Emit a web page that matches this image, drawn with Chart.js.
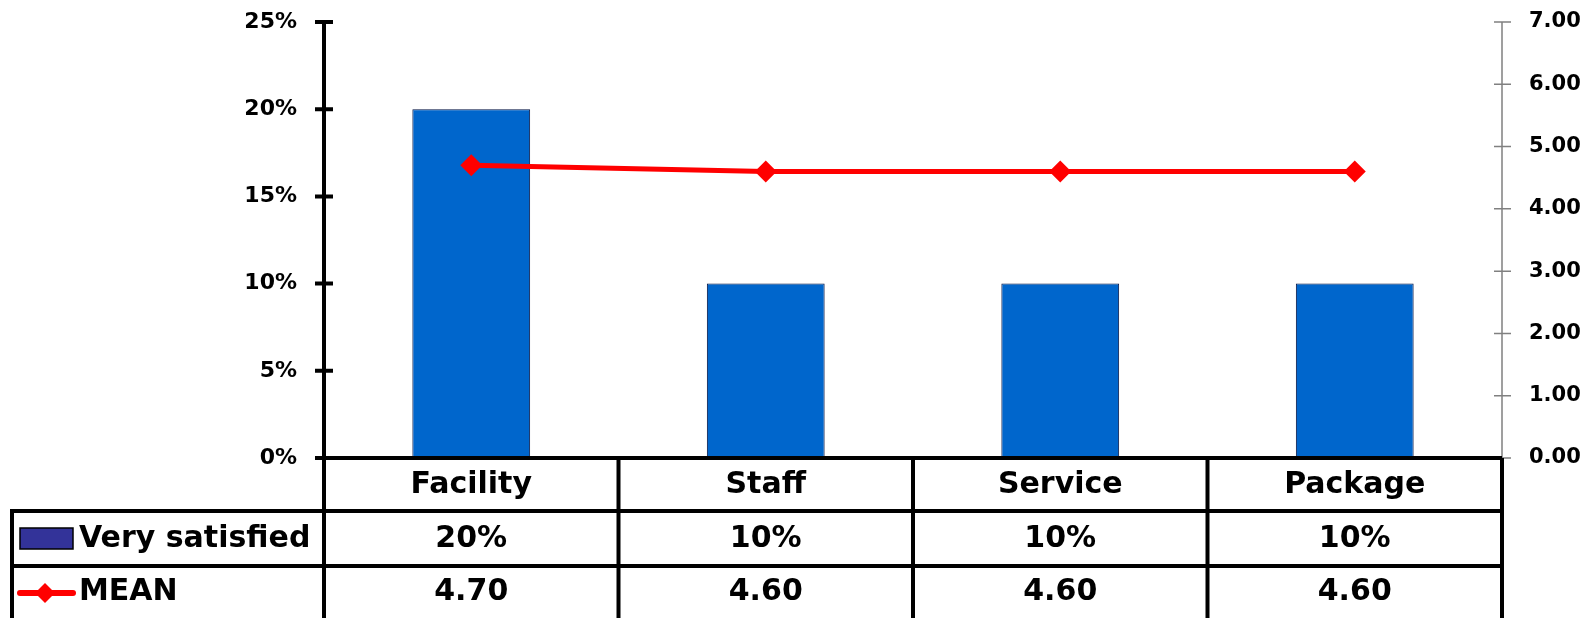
<!DOCTYPE html>
<html>
<head>
<meta charset="utf-8">
<script src="https://cdn.jsdelivr.net/npm/chart.js@4"></script>
<style>
  html, body { margin: 0; padding: 0; background: #fff; }
  #wrap { width: 1587px; height: 618px; }
</style>
</head>
<body>
<div id="wrap"><canvas id="c" width="1587" height="618"></canvas></div>
<script>
const categories = ['Facility', 'Staff', 'Service', 'Package'];
const verySatisfied = [20, 10, 10, 10];          // percent
const meanValues = [4.70, 4.60, 4.60, 4.60];
const seriesNames = ['Very satisfied', 'MEAN'];
const leftAxisMax = 25, leftAxisStep = 5;
const rightAxisMax = 7, rightAxisStep = 1;

const FONT = '"DejaVu Sans", "Liberation Sans", sans-serif';
const BAR_COLOR = '#0066CC';
const LEGEND_BAR_COLOR = '#333399';
const LINE_COLOR = '#FF0000';

const tablePlugin = {
  id: 'tablePlugin',
  afterDraw(chart) {
    const ctx = chart.ctx;
    const a = chart.chartArea;
    const y = chart.scales.y;
    const y2 = chart.scales.y2;
    const n = categories.length;
    const cw = (a.right - a.left) / n;
    const tableLeft = 12;
    const rowH = [a.bottom, 511, 566, 640];

    ctx.save();
    // right axis (grey)
    ctx.strokeStyle = '#808080';
    ctx.lineWidth = 1.5;
    ctx.beginPath();
    ctx.moveTo(a.right, a.top);
    ctx.lineTo(a.right, a.bottom);
    y2.ticks.forEach(t => {
      const py = y2.getPixelForValue(t.value);
      ctx.moveTo(a.right - 8, py);
      ctx.lineTo(a.right + 9, py);
    });
    ctx.stroke();

    // left axis (black, thick)
    ctx.strokeStyle = '#000';
    ctx.lineWidth = 4;
    ctx.beginPath();
    ctx.moveTo(a.left, a.top);
    ctx.lineTo(a.left, 618);
    y.ticks.forEach(t => {
      const py = y.getPixelForValue(t.value);
      ctx.moveTo(a.left - 9, py);
      ctx.lineTo(a.left + 9, py);
    });
    ctx.stroke();

    // table grid
    ctx.lineWidth = 4;
    ctx.beginPath();
    ctx.moveTo(a.left - 9, a.bottom);
    ctx.lineTo(a.right, a.bottom);
    ctx.moveTo(tableLeft - 2, rowH[1]);
    ctx.lineTo(a.right + 2, rowH[1]);
    ctx.moveTo(tableLeft - 2, rowH[2]);
    ctx.lineTo(a.right + 2, rowH[2]);
    ctx.moveTo(tableLeft, rowH[1]);
    ctx.lineTo(tableLeft, 618);
    for (let i = 1; i <= n; i++) {
      const px = a.left + i * cw;
      ctx.moveTo(px, a.bottom);
      ctx.lineTo(px, 618);
    }
    ctx.stroke();

    // table text
    ctx.fillStyle = '#000';
    ctx.textAlign = 'center';
    ctx.textBaseline = 'middle';
    ctx.font = 'bold 30px ' + FONT;
    const xs = chart.scales.x;
    categories.forEach((c, i) => {
      ctx.fillText(c, xs.getPixelForValue(i), (rowH[0] + rowH[1]) / 2 + 1);
    });
    verySatisfied.forEach((v, i) => {
      ctx.fillText(v + '%', xs.getPixelForValue(i), (rowH[1] + rowH[2]) / 2 + 1);
    });
    meanValues.forEach((v, i) => {
      ctx.fillText(v.toFixed(2), xs.getPixelForValue(i), 592);
    });

    // legend labels
    ctx.textAlign = 'left';
    ctx.fillText(seriesNames[0], 79, (rowH[1] + rowH[2]) / 2 + 1);
    ctx.fillText(seriesNames[1], 79, 592);

    // legend swatch: bar
    ctx.fillStyle = LEGEND_BAR_COLOR;
    ctx.fillRect(20, 528, 53, 21);
    ctx.strokeStyle = '#000';
    ctx.lineWidth = 1.5;
    ctx.strokeRect(20, 528, 53, 21);

    // legend swatch: line + diamond
    ctx.strokeStyle = LINE_COLOR;
    ctx.lineWidth = 6;
    ctx.lineCap = 'round';
    ctx.beginPath();
    ctx.moveTo(20, 593);
    ctx.lineTo(73, 593);
    ctx.stroke();
    ctx.fillStyle = LINE_COLOR;
    ctx.beginPath();
    ctx.moveTo(45, 583);
    ctx.lineTo(55, 593);
    ctx.lineTo(45, 603);
    ctx.lineTo(35, 593);
    ctx.closePath();
    ctx.fill();
    ctx.restore();
  }
};

function fitY(width) {
  return s => { s.width = width; s.paddingTop = 0; s.paddingBottom = 0; };
}

new Chart(document.getElementById('c'), {
  data: {
    labels: categories,
    datasets: [
      {
        type: 'line',
        label: seriesNames[1],
        data: meanValues,
        yAxisID: 'y2',
        borderColor: LINE_COLOR,
        backgroundColor: LINE_COLOR,
        borderWidth: 5,
        pointStyle: 'rectRot',
        pointRadius: 11,
        pointHoverRadius: 11,
        pointBorderWidth: 0,
        tension: 0,
        order: 0
      },
      {
        type: 'bar',
        label: seriesNames[0],
        data: verySatisfied,
        yAxisID: 'y',
        backgroundColor: BAR_COLOR,
        borderColor: '#001040',
        borderWidth: 1,
        barPercentage: 0.4,
        categoryPercentage: 1.0,
        order: 1
      }
    ]
  },
  options: {
    responsive: false,
    animation: false,
    events: [],
    layout: { padding: { top: 22, bottom: 160, left: 0, right: 0 } },
    plugins: { legend: { display: false }, tooltip: { enabled: false } },
    scales: {
      x: { display: false, offset: true },
      y: {
        position: 'left',
        min: 0, max: leftAxisMax,
        grid: { display: false, drawTicks: false },
        border: { display: false },
        ticks: {
          stepSize: leftAxisStep,
          padding: 27,
          color: '#000',
          font: { family: FONT, size: 22, weight: 'bold' },
          callback: v => v + '%'
        },
        afterFit: fitY(324)
      },
      y2: {
        position: 'right',
        min: 0, max: rightAxisMax,
        grid: { display: false, drawTicks: false },
        border: { display: false },
        ticks: {
          stepSize: rightAxisStep,
          padding: 27,
          color: '#000',
          font: { family: FONT, size: 21, weight: 'bold' },
          callback: v => v.toFixed(2)
        },
        afterFit: fitY(85)
      }
    }
  },
  plugins: [tablePlugin]
});
</script>
</body>
</html>
